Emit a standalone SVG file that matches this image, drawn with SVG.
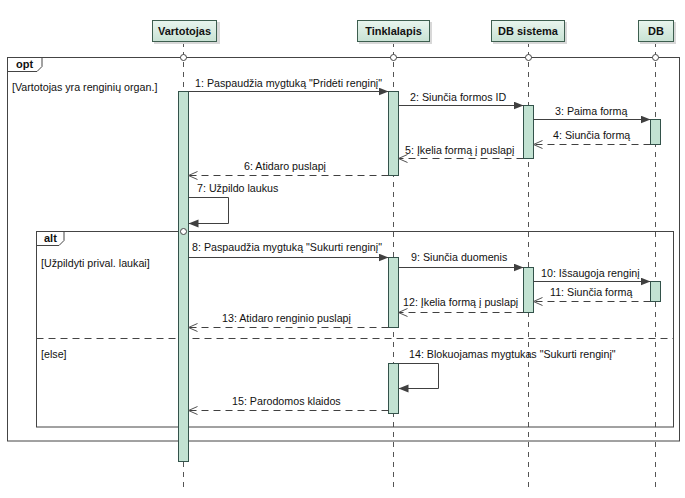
<svg xmlns="http://www.w3.org/2000/svg" width="685" height="498" viewBox="0 0 685 498">
<defs>
<linearGradient id="hdr" x1="0" y1="0" x2="0" y2="1">
<stop offset="0" stop-color="#e9f5ee"/>
<stop offset="1" stop-color="#c8e2d4"/>
</linearGradient>
<marker id="sync" markerUnits="userSpaceOnUse" markerWidth="11" markerHeight="9" refX="10" refY="4" orient="auto">
<path d="M0,0 L10,4 L0,8 z" fill="#404040"/>
</marker>
<marker id="ret" markerUnits="userSpaceOnUse" markerWidth="12" markerHeight="10" refX="10" refY="4.5" orient="auto">
<path d="M1,0.5 L10,4.5 L1,8.5" fill="none" stroke="#505050" stroke-width="1"/>
</marker>
</defs>
<style>
text{font-family:"Liberation Sans",Arial,sans-serif;font-size:10.7px;fill:#111}
.hd{font-weight:bold;text-anchor:middle;font-size:11px}
.b{font-weight:bold;font-size:11px}
.box{fill:url(#hdr);stroke:#3d5e4f;stroke-width:1}
.shadow{fill:#d8d8d8}
.life{stroke:#555;stroke-width:1;stroke-dasharray:5,5;fill:none}
.act{fill:#c2e2d2;stroke:#33524a;stroke-width:1}
.frame{fill:none;stroke:#444;stroke-width:1}
.dot{fill:#fff;stroke:#444;stroke-width:1}
.msg{stroke:#404040;stroke-width:1;fill:none}
.rmsg{stroke:#404040;stroke-width:1;fill:none;stroke-dasharray:7,5}
</style>
<rect width="685" height="498" fill="#fff"/>

<g id="lifelines">
<line class="life" x1="183.5" y1="42" x2="183.5" y2="492"/>
<line class="life" x1="393.5" y1="42" x2="393.5" y2="492"/>
<line class="life" x1="528.5" y1="42" x2="528.5" y2="492"/>
<line class="life" x1="655.5" y1="42" x2="655.5" y2="492"/>
</g>

<g id="Vartotojas">
<rect class="shadow" x="154" y="22" width="66" height="22"/>
<rect class="box" x="152.5" y="20.5" width="64" height="21"/>
<text class="hd" x="184.5" y="35">Vartotojas</text>
</g>
<g id="Tinklalapis">
<rect class="shadow" x="359" y="22" width="73" height="22"/>
<rect class="box" x="357.5" y="20.5" width="72" height="21"/>
<text class="hd" x="393.5" y="35">Tinklalapis</text>
</g>
<g id="DBsistema">
<rect class="shadow" x="493" y="22" width="74" height="22"/>
<rect class="box" x="491.5" y="20.5" width="73" height="21"/>
<text class="hd" x="528" y="35">DB sistema</text>
</g>
<g id="DB">
<rect class="shadow" x="640" y="22" width="36" height="22"/>
<rect class="box" x="638.5" y="20.5" width="35" height="21"/>
<text class="hd" x="656" y="35">DB</text>
</g>

<g id="opt">
<rect class="frame" x="7.5" y="57.5" width="672" height="383.5"/>
<path class="frame" d="M7.5,71.5 H37 L42,66.5 V57.5"/>
<text class="b" x="16" y="68">opt</text>
<text x="12" y="91">[Vartotojas yra renginių organ.]</text>
</g>

<g id="alt">
<rect class="frame" x="36.5" y="231.5" width="637" height="195.5"/>
<path class="frame" d="M36.5,245.5 H59 L64,240.5 V231.5"/>
<text class="b" x="44" y="242">alt</text>
<text x="41" y="267">[Užpildyti prival. laukai]</text>
<line class="frame" x1="36.5" y1="338.5" x2="673.5" y2="338.5" stroke-dasharray="7,5"/>
<text x="41" y="358">[else]</text>
</g>

<g id="activations">
<rect class="act" x="178.5" y="91.5" width="10" height="370"/>
<rect class="act" x="388.5" y="91.5" width="10" height="84"/>
<rect class="act" x="523.5" y="105.5" width="10" height="53"/>
<rect class="act" x="650.5" y="119.5" width="10" height="25"/>
<rect class="act" x="388.5" y="257.5" width="10" height="70"/>
<rect class="act" x="523.5" y="267.5" width="10" height="45"/>
<rect class="act" x="650.5" y="281.5" width="10" height="20"/>
<rect class="act" x="388.5" y="363.5" width="10" height="50"/>
</g>

<g id="dots">
<circle class="dot" cx="183.5" cy="57.5" r="3"/>
<circle class="dot" cx="393.5" cy="57.5" r="3"/>
<circle class="dot" cx="528.5" cy="57.5" r="3"/>
<circle class="dot" cx="655.5" cy="57.5" r="3"/>
<circle class="dot" cx="183.5" cy="231.5" r="3"/>
</g>

<g id="connectors">
<line class="msg" x1="188.5" y1="91.5" x2="388.5" y2="91.5" marker-end="url(#sync)"/>
<line class="msg" x1="398.5" y1="105.5" x2="523.5" y2="105.5" marker-end="url(#sync)"/>
<line class="msg" x1="533.5" y1="119.5" x2="650.5" y2="119.5" marker-end="url(#sync)"/>
<line class="rmsg" x1="650.5" y1="144.5" x2="533.5" y2="144.5" marker-end="url(#ret)"/>
<line class="rmsg" x1="523.5" y1="158.5" x2="398.5" y2="158.5" marker-end="url(#ret)"/>
<line class="rmsg" x1="388.5" y1="175.5" x2="188.5" y2="175.5" marker-end="url(#ret)"/>
<path class="msg" d="M188.5,197.5 H228.5 V223.5 H188.5" marker-end="url(#sync)"/>
<line class="msg" x1="188.5" y1="257.5" x2="388.5" y2="257.5" marker-end="url(#sync)"/>
<line class="msg" x1="398.5" y1="267.5" x2="523.5" y2="267.5" marker-end="url(#sync)"/>
<line class="msg" x1="533.5" y1="281.5" x2="650.5" y2="281.5" marker-end="url(#sync)"/>
<line class="rmsg" x1="650.5" y1="301.5" x2="533.5" y2="301.5" marker-end="url(#ret)"/>
<line class="rmsg" x1="523.5" y1="312.5" x2="398.5" y2="312.5" marker-end="url(#ret)"/>
<line class="rmsg" x1="388.5" y1="327.5" x2="188.5" y2="327.5" marker-end="url(#ret)"/>
<path class="msg" d="M398.5,363.5 H438.5 V388.5 H398.5" marker-end="url(#sync)"/>
<line class="rmsg" x1="388.5" y1="410.5" x2="188.5" y2="410.5" marker-end="url(#ret)"/>
</g>

<g id="labels">
<text x="195" y="87">1: Paspaudžia mygtuką "Pridėti renginį"</text>
<text x="410" y="101">2: Siunčia formos ID</text>
<text x="555" y="115">3: Paima formą</text>
<text x="553" y="139">4: Siunčia formą</text>
<text x="405" y="154">5: Įkelia formą į puslapį</text>
<text x="244" y="170">6: Atidaro puslapį</text>
<text x="197" y="192">7: Užpildo laukus</text>
<text x="192" y="251">8: Paspaudžia mygtuką "Sukurti renginį"</text>
<text x="411" y="261">9: Siunčia duomenis</text>
<text x="541" y="277">10: Išsaugoja renginį</text>
<text x="550" y="296">11: Siunčia formą</text>
<text x="403" y="306">12: Įkelia formą į puslapį</text>
<text x="222" y="322">13: Atidaro renginio puslapį</text>
<text x="409" y="358">14: Blokuojamas mygtukas "Sukurti renginį"</text>
<text x="232" y="405">15: Parodomos klaidos</text>
</g>
</svg>
